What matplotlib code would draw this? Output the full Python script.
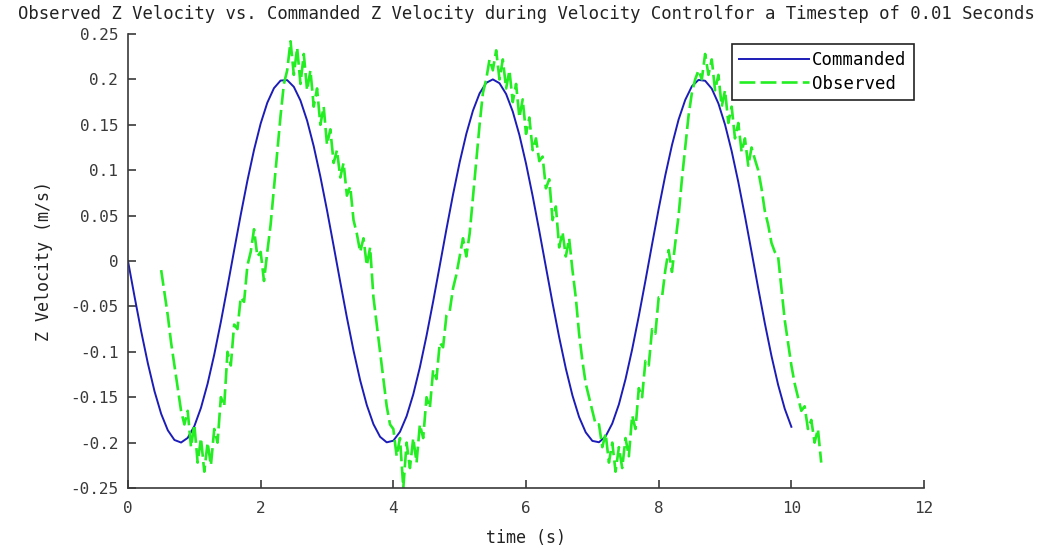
import matplotlib
matplotlib.use("Agg")
import matplotlib.pyplot as plt

# Commanded Z velocity, sampled every 0.1 s from 0 to 10 s
cmd_v = [0.0, -0.0397, -0.0779, -0.1129, -0.1435, -0.1683, -0.1864, -0.1971, -0.1999, -0.1948,
         -0.1819, -0.1617, -0.1351, -0.1031, -0.0670, -0.0282, 0.0117, 0.0511, 0.0885, 0.1224,
         0.1514, 0.1743, 0.1903, 0.1987, 0.1992, 0.1918, 0.1767, 0.1546, 0.1263, 0.0929,
         0.0559, 0.0166, -0.0233, -0.0623, -0.0988, -0.1314, -0.1587, -0.1797, -0.1936, -0.1997,
         -0.1979, -0.1881, -0.1709, -0.1469, -0.1170, -0.0824, -0.0446, -0.0050, 0.0349, 0.0733,
         0.1088, 0.1400, 0.1656, 0.1846, 0.1962, 0.2000, 0.1958, 0.1839, 0.1646, 0.1388,
         0.1073, 0.0716, 0.0331, -0.0067, -0.0463, -0.0840, -0.1184, -0.1481, -0.1718, -0.1887,
         -0.1981, -0.1996, -0.1931, -0.1790, -0.1579, -0.1301, -0.0973, -0.0607, -0.0217, 0.0183,
         0.0576, 0.0945, 0.1276, 0.1558, 0.1774, 0.1924, 0.1994, 0.1985, 0.1898, 0.1735,
         0.1502, 0.1210, 0.0870, 0.0495, 0.0100, -0.0299, -0.0686, -0.1045, -0.1363, -0.1627,
         -0.1826]
cmd_t = [i * 0.1 for i in range(len(cmd_v))]

obs_v = [-0.010, -0.035, -0.060, -0.090, -0.115, -0.140, -0.165, -0.180,
         -0.165, -0.205, -0.180, -0.222, -0.195, -0.232, -0.200, -0.225, -0.185, -0.200,
         -0.150, -0.160, -0.100, -0.115, -0.070, -0.075, -0.040, -0.045, -0.005, 0.010,
         0.035, 0.005, 0.010, -0.022, 0.010, 0.040, 0.080, 0.120, 0.160, 0.195,
         0.210, 0.242, 0.205, 0.235, 0.195, 0.228, 0.188, 0.210, 0.170, 0.190,
         0.150, 0.170, 0.128, 0.145, 0.108, 0.122, 0.092, 0.108, 0.072, 0.082,
         0.045, 0.030, 0.010, 0.025, -0.005, 0.015, -0.040, -0.070, -0.100, -0.130,
         -0.160, -0.180, -0.185, -0.215, -0.195, -0.250, -0.200, -0.228, -0.195, -0.222,
         -0.180, -0.195, -0.150, -0.162, -0.120, -0.130, -0.090, -0.095, -0.060, -0.055,
         -0.030, -0.015, 0.005, 0.025, 0.005, 0.030, 0.070, 0.110, 0.150, 0.185,
         0.200, 0.222, 0.210, 0.232, 0.200, 0.222, 0.190, 0.210, 0.175, 0.195,
         0.158, 0.178, 0.140, 0.158, 0.122, 0.135, 0.110, 0.115, 0.080, 0.090,
         0.045, 0.060, 0.015, 0.032, 0.005, 0.025, -0.010, -0.040, -0.080, -0.110,
         -0.135, -0.150, -0.165, -0.180, -0.180, -0.205, -0.190, -0.222, -0.200, -0.232,
         -0.205, -0.228, -0.195, -0.215, -0.170, -0.185, -0.140, -0.150, -0.110, -0.115,
         -0.075, -0.080, -0.040, -0.040, -0.010, 0.012, -0.012, 0.020, 0.050, 0.090,
         0.125, 0.160, 0.185, 0.200, 0.210, 0.200, 0.228, 0.205, 0.222, 0.188,
         0.205, 0.170, 0.188, 0.152, 0.170, 0.135, 0.152, 0.120, 0.135, 0.105,
         0.125, 0.112, 0.100, 0.080, 0.055, 0.040, 0.020, 0.010, 0.005, -0.030,
         -0.065, -0.090, -0.115, -0.135, -0.150, -0.165, -0.160, -0.185, -0.175, -0.200,
         -0.185, -0.222]
obs_t = [0.5 + i * 0.05 for i in range(len(obs_v))]

x_ticks = [0, 2, 4, 6, 8, 10, 12]
y_ticks = [-0.25, -0.2, -0.15, -0.1, -0.05, 0, 0.05, 0.1, 0.15, 0.2, 0.25]
y_tick_labels = ["-0.25", "-0.2", "-0.15", "-0.1", "-0.05", "0", "0.05", "0.1", "0.15", "0.2", "0.25"]

plt.rcParams['font.family'] = ['DejaVu Sans Mono']
axis_grey = '#3a3a3a'

fig = plt.figure(figsize=(10.44, 5.5), dpi=100)
ax = fig.add_axes([0.1226, 0.1127, 0.7625, 0.8255])

ax.plot(cmd_t, cmd_v, color='#1c1cb8', linewidth=1.4, label='Commanded')
ax.plot(obs_t, obs_v, color='#22ee22', linewidth=1.9, linestyle=(0, (6, 2)), label='Observed')

ax.set_xlim(0, 12)
ax.set_ylim(-0.25, 0.25)
ax.set_xticks(x_ticks)
ax.set_yticks(y_ticks)
ax.set_yticklabels(y_tick_labels)
ax.tick_params(direction='in', length=6, width=1.2, colors=axis_grey, labelsize=11.5)
ax.tick_params(axis='x', pad=9)
ax.tick_params(axis='y', pad=7)
ax.spines['top'].set_visible(False)
ax.spines['right'].set_visible(False)
for side in ['left', 'bottom']:
    ax.spines[side].set_color(axis_grey)
    ax.spines[side].set_linewidth(1.2)

ax.set_xlabel('time (s)', fontsize=12, color='#222222', labelpad=10)
ax.set_ylabel('Z Velocity (m/s)', fontsize=12, color='#222222', labelpad=12)
ax.set_title('Observed Z Velocity vs. Commanded Z Velocity during Velocity Controlfor a Timestep of 0.01 Seconds',
             fontsize=12.4, color='#222222', pad=11)

leg = ax.legend(loc='upper right', fontsize=12.5, handlelength=4, handletextpad=0.2,
                borderaxespad=0.6, fancybox=False, framealpha=1, borderpad=0.4, labelspacing=0.3)
leg.get_frame().set_edgecolor('#222222')
leg.get_frame().set_linewidth(1.2)

fig.savefig('out.png', dpi=100)
